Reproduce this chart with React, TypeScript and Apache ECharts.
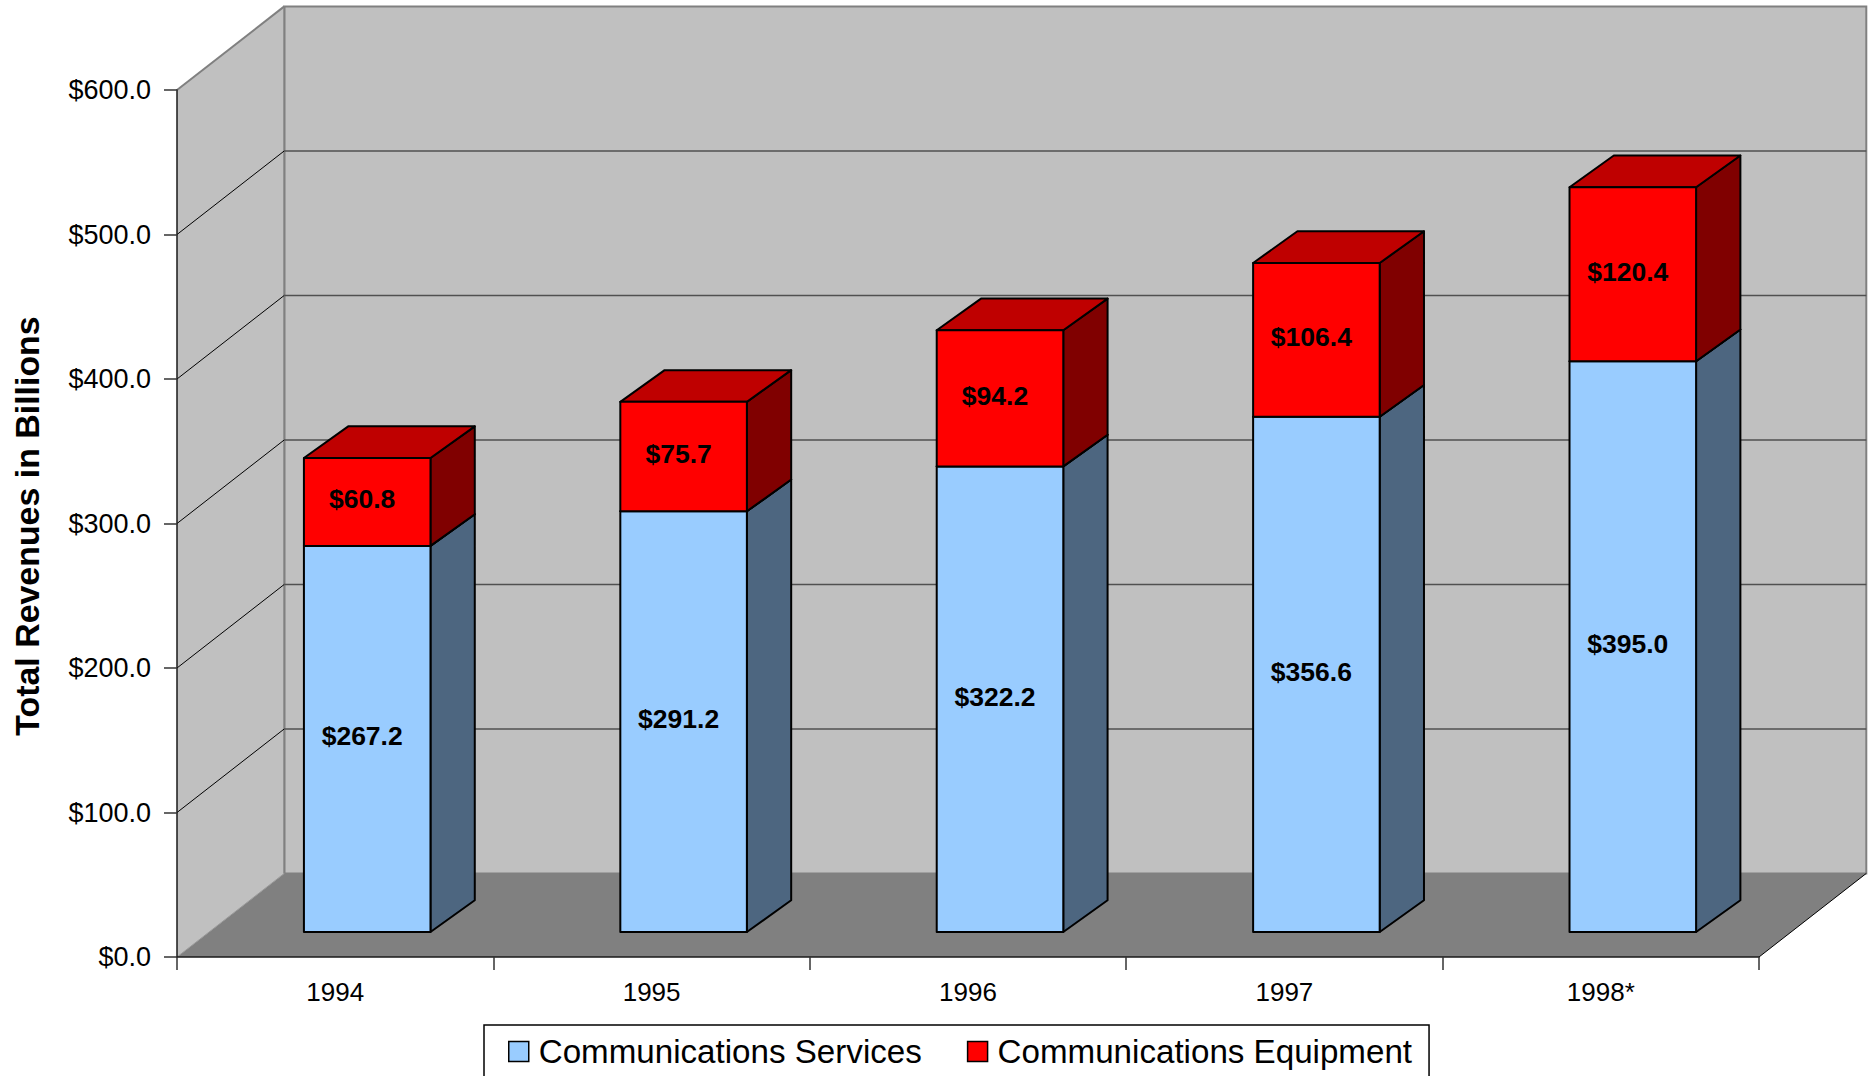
import React, { useEffect, useRef } from "react";
import * as echarts from "echarts";

const categories = ["1994", "1995", "1996", "1997", "1998*"];
const servicesName = "Communications Services";
const equipmentName = "Communications Equipment";
const services = [267.2, 291.2, 322.2, 356.6, 395.0];
const equipment = [60.8, 75.7, 94.2, 106.4, 120.4];
const innerGridValues = [100, 200, 300, 400, 500];
const yMax = 600;
const yStep = 100;
const yAxisTitle = "Total Revenues in Billions";

const FONT = '"Liberation Sans", Arial, sans-serif';
const WALL_DX = 107.3;
const WALL_DY = 83.6;
const BAR_SHIFT_X = 32;
const BAR_SHIFT_Y = 25;
const BAR_DX = 44.3;
const BAR_DY = 31.7;
const BAR_RATIO = 0.4;

function renderWalls(params: any, api: any) {
  const cs = params.coordSys;
  const left = cs.x;
  const right = cs.x + cs.width;
  const bottom = api.coord([0, 0])[1];
  const top = api.coord([0, yMax])[1];
  const backL = left + WALL_DX;
  const backR = right + WALL_DX;
  const backB = bottom - WALL_DY;
  const backT = top - WALL_DY;
  const gray = { stroke: "#808080", lineWidth: 2 };
  return {
    type: "group",
    children: [
      { type: "rect", shape: { x: backL, y: backT, width: backR - backL, height: backB - backT }, style: { fill: "#C0C0C0", stroke: "#808080", lineWidth: 2 } },
      { type: "polygon", shape: { points: [[left, top], [backL, backT], [backL, backB], [left, bottom]] }, style: { fill: "#C0C0C0" } },
      { type: "polygon", shape: { points: [[left, bottom], [right, bottom], [backR, backB], [backL, backB]] }, style: { fill: "#808080" } },
      { type: "line", shape: { x1: left, y1: top, x2: backL, y2: backT }, style: gray },
      { type: "line", shape: { x1: backL, y1: backT, x2: backL, y2: backB }, style: gray },
      { type: "line", shape: { x1: left, y1: bottom, x2: backL, y2: backB }, style: { stroke: "#999999", lineWidth: 1 } },
      { type: "line", shape: { x1: right, y1: bottom, x2: backR, y2: backB }, style: { stroke: "#000000", lineWidth: 1 } },
    ],
  };
}

function renderGridLine(params: any, api: any) {
  const cs = params.coordSys;
  const y = api.coord([0, api.value(0)])[1];
  const left = cs.x;
  const right = cs.x + cs.width;
  return {
    type: "group",
    children: [
      { type: "line", shape: { x1: left, y1: y, x2: left + WALL_DX, y2: y - WALL_DY }, style: { stroke: "#000000", lineWidth: 1 } },
      { type: "line", shape: { x1: left + WALL_DX, y1: y - WALL_DY, x2: right + WALL_DX, y2: y - WALL_DY }, style: { stroke: "#505050", lineWidth: 1.5 } },
    ],
  };
}

function makeRenderBar(front: string, side: string, topFace: string) {
  return (_params: any, api: any) => {
    const idx = api.value(0);
    const c0 = api.coord([idx, api.value(1)]);
    const c1 = api.coord([idx, api.value(2)]);
    const w = api.size([1, 0])[0] * BAR_RATIO;
    const x0 = c0[0] + BAR_SHIFT_X - w / 2;
    const x1 = x0 + w;
    const yb = c0[1] - BAR_SHIFT_Y;
    const yt = c1[1] - BAR_SHIFT_Y;
    const edge = { stroke: "#000000", lineWidth: 2, lineJoin: "round" };
    return {
      type: "group",
      children: [
        { type: "polygon", shape: { points: [[x1, yb], [x1 + BAR_DX, yb - BAR_DY], [x1 + BAR_DX, yt - BAR_DY], [x1, yt]] }, style: { fill: side, ...edge } },
        { type: "polygon", shape: { points: [[x0, yt], [x1, yt], [x1 + BAR_DX, yt - BAR_DY], [x0 + BAR_DX, yt - BAR_DY]] }, style: { fill: topFace, ...edge } },
        { type: "rect", shape: { x: x0, y: yt, width: w, height: yb - yt }, style: { fill: front, ...edge } },
        {
          type: "text",
          style: {
            text: "$" + api.value(3).toFixed(1),
            x: (x0 + x1) / 2 - 5,
            y: (yb + yt) / 2 - 2.5,
            align: "center",
            verticalAlign: "middle",
            fontFamily: FONT,
            fontWeight: "bold",
            fontSize: 26.5,
            fill: "#000000",
          },
        },
      ],
    };
  };
}

export default function App() {
  const ref = useRef<HTMLDivElement>(null);
  useEffect(() => {
    document.body.style.margin = "0";
    document.body.style.overflow = "hidden";
    const chart = echarts.init(ref.current!, null, { renderer: "svg" });
    chart.setOption({
      animation: false,
      backgroundColor: "#FFFFFF",
      grid: { left: 177, right: 112, top: 90, bottom: 119, containLabel: false, outerBoundsMode: "none" },
      xAxis: {
        type: "category",
        data: categories,
        z: 10,
        axisLine: { lineStyle: { color: "#1a1a1a", width: 1.5 } },
        axisTick: { show: true, alignWithLabel: false, length: 13, lineStyle: { color: "#333333", width: 1.5 } },
        axisLabel: { color: "#000000", fontFamily: FONT, fontSize: 26, margin: 22 },
        splitLine: { show: false },
      },
      yAxis: {
        type: "value",
        min: 0,
        max: yMax,
        interval: yStep,
        z: 10,
        name: yAxisTitle,
        nameLocation: "middle",
        nameGap: 133,
        nameTextStyle: { color: "#000000", fontFamily: FONT, fontWeight: "bold", fontSize: 33.9, padding: [0, 5, 0, 0] },
        axisLine: { show: true, lineStyle: { color: "#1a1a1a", width: 1.5 } },
        axisTick: { show: true, length: 13, lineStyle: { color: "#333333", width: 1.5 } },
        axisLabel: { color: "#000000", fontFamily: FONT, fontSize: 27, margin: 26, formatter: (v: number) => "$" + v.toFixed(1) },
        splitLine: { show: false },
      },
      legend: {
        data: [servicesName, equipmentName],
        left: 484,
        top: 1025,
        orient: "horizontal",
        padding: [10, 17, 24, 24],
        itemGap: 45,
        itemWidth: 20,
        itemHeight: 20,
        icon: "rect",
        borderColor: "#000000",
        borderWidth: 1.5,
        backgroundColor: "#FFFFFF",
        selectedMode: false,
        itemStyle: { borderColor: "#000000", borderWidth: 1.5 },
        textStyle: { color: "#000000", fontFamily: FONT, fontSize: 33.15, lineHeight: 33, padding: [0, 0, 0, 5] },
      },
      series: [
        { type: "custom", name: "walls", z: 1, silent: true, renderItem: renderWalls, data: [[0]], encode: { y: 0 } },
        { type: "custom", name: "gridlines", z: 2, silent: true, renderItem: renderGridLine, data: innerGridValues.map((v) => [v]), encode: { y: 0 } },
        {
          type: "custom",
          name: servicesName,
          z: 3,
          itemStyle: { color: "#99CCFF" },
          renderItem: makeRenderBar("#99CCFF", "#4D6680", "#7FA6CC"),
          encode: { x: 0, y: [1, 2] },
          data: services.map((v, i) => [i, 0, v, v]),
        },
        {
          type: "custom",
          name: equipmentName,
          z: 4,
          itemStyle: { color: "#FF0000" },
          renderItem: makeRenderBar("#FF0000", "#800000", "#BF0000"),
          encode: { x: 0, y: [1, 2] },
          data: equipment.map((v, i) => [i, services[i], services[i] + v, v]),
        },
      ],
    });
    return () => chart.dispose();
  }, []);
  return <div ref={ref} style={{ width: 1871, height: 1076 }} />;
}
